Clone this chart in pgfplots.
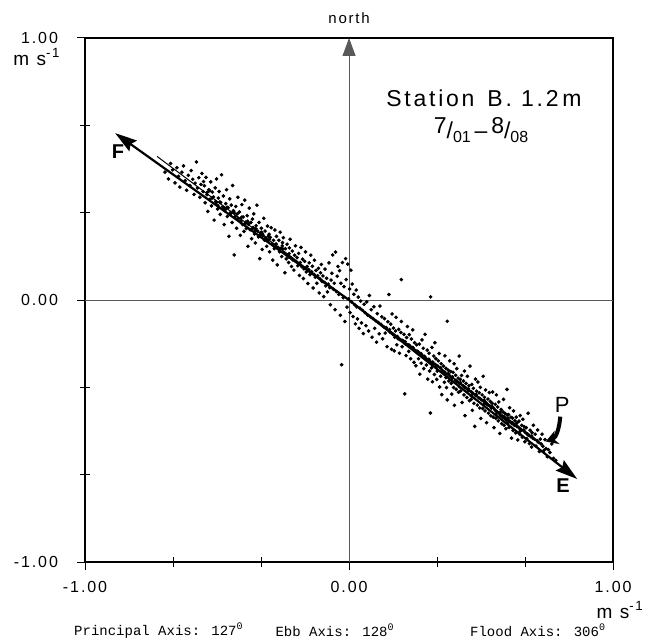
\documentclass[border=0pt]{standalone}
\usepackage{fontspec}
\setmainfont{Liberation Sans}
\newfontfamily\plotter[LetterSpace=12]{Liberation Sans}
\newfontfamily\mono{Liberation Mono}
\usepackage{pgfplots}
\pgfplotsset{compat=1.18}
\usetikzlibrary{arrows.meta}

\begin{document}
\begin{tikzpicture}
\begin{axis}[
  width=264pt, height=262pt, scale only axis,
  xmin=-1, xmax=1, ymin=-1, ymax=1,
  clip=false,
  axis line style={black, line width=0.6pt},
  xtick={-1,0,1}, xticklabels={-1.00,0.00,1.00},
  ytick={-1,0,1}, yticklabels={-1.00,0.00,1.00},
  minor xtick={-0.6667,-0.3333,0.3333,0.6667},
  minor ytick={-0.6667,-0.3333,0.3333,0.6667},
  xtick pos=bottom, ytick pos=left,
  tick align=center, major tick length=8pt, minor tick length=5pt,
  tick style={black, line width=0.5pt},
  xticklabel style={font=\plotter\fontsize{8}{9}\selectfont, yshift=-2pt},
  yticklabel style={font=\plotter\fontsize{8}{9}\selectfont, xshift=-6pt},
]
% crosshair through the origin
\draw[gray!70!black, line width=0.5pt] (axis cs:-1,0) -- (axis cs:1,0);
\draw[gray!70!black, line width=0.5pt, -{Triangle[length=9pt,width=6.5pt]}] (axis cs:0,-1) -- (axis cs:0,1);

% velocity samples (u, v)
\addplot[only marks, mark=*, mark size=0.7pt, black] coordinates {
(-0.697,0.488) (-0.684,0.462) (-0.676,0.521) (-0.668,0.497) (-0.659,0.447) (-0.652,0.505) (-0.646,0.472) (-0.641,0.431)
(-0.633,0.488) (-0.627,0.512) (-0.621,0.455) (-0.615,0.419) (-0.609,0.476) (-0.603,0.437) (-0.598,0.494) (-0.592,0.461)
(-0.587,0.403) (-0.583,0.446) (-0.578,0.527) (-0.574,0.428) (-0.569,0.467) (-0.565,0.392) (-0.561,0.441) (-0.557,0.483)
(-0.553,0.414) (-0.551,0.452)
(-0.548,0.436) (-0.545,0.371) (-0.542,0.468) (-0.538,0.402) (-0.535,0.338) (-0.531,0.421) (-0.528,0.384) (-0.524,0.451)
(-0.521,0.359) (-0.518,0.412) (-0.514,0.393) (-0.511,0.305) (-0.507,0.428) (-0.505,0.376) (-0.502,0.462) (-0.498,0.347)
(-0.495,0.389) (-0.492,0.414) (-0.488,0.327) (-0.486,0.372) (-0.483,0.478) (-0.479,0.356) (-0.476,0.397) (-0.473,0.288)
(-0.471,0.341) (-0.467,0.368) (-0.464,0.421) (-0.461,0.319) (-0.458,0.352) (-0.455,0.243) (-0.452,0.386) (-0.449,0.334)
(-0.446,0.362) (-0.443,0.296) (-0.441,0.437) (-0.438,0.341) (-0.435,0.172) (-0.432,0.318) (-0.429,0.357) (-0.426,0.274)
(-0.423,0.329) (-0.421,0.392) (-0.418,0.311) (-0.415,0.336) (-0.412,0.247) (-0.409,0.302) (-0.406,0.364) (-0.403,0.288)
(-0.401,0.317) (-0.398,0.262) (-0.395,0.381) (-0.392,0.297) (-0.389,0.273) (-0.386,0.322) (-0.383,0.205) (-0.381,0.289)
(-0.378,0.351) (-0.375,0.268) (-0.372,0.296) (-0.369,0.234) (-0.366,0.309) (-0.363,0.277) (-0.361,0.329) (-0.358,0.252)
(-0.355,0.218) (-0.352,0.284) (-0.349,0.362) (-0.346,0.263) (-0.343,0.241) (-0.341,0.296) (-0.338,0.158) (-0.335,0.257)
(-0.332,0.274) (-0.329,0.193) (-0.326,0.246) (-0.323,0.312) (-0.321,0.229) (-0.318,0.263) (-0.315,0.238) (-0.312,0.205)
(-0.309,0.282) (-0.306,0.227) (-0.303,0.251) (-0.301,0.184) (-0.298,0.239) (-0.295,0.276) (-0.292,0.214) (-0.289,0.152)
(-0.286,0.228) (-0.283,0.196) (-0.281,0.267) (-0.278,0.212) (-0.275,0.243) (-0.272,0.134) (-0.269,0.201) (-0.266,0.228)
(-0.263,0.184) (-0.261,0.259) (-0.258,0.197) (-0.255,0.166) (-0.252,0.219) (-0.249,0.238) (-0.246,0.181) (-0.243,0.104)
(-0.241,0.196) (-0.238,0.157) (-0.235,0.213) (-0.232,0.172) (-0.229,0.143) (-0.226,0.199) (-0.223,0.232) (-0.221,0.162)
(-0.218,0.128) (-0.215,0.187) (-0.212,0.153) (-0.209,0.114) (-0.206,0.171) (-0.203,0.207) (-0.201,0.148)
(-0.537,0.411) (-0.519,0.389) (-0.503,0.372) (-0.489,0.374) (-0.474,0.351) (-0.462,0.354) (-0.447,0.331) (-0.434,0.331)
(-0.421,0.312) (-0.407,0.316) (-0.394,0.291) (-0.379,0.292) (-0.367,0.271) (-0.353,0.272) (-0.339,0.248) (-0.327,0.251)
(-0.313,0.229) (-0.302,0.232) (-0.288,0.211) (-0.276,0.214) (-0.264,0.192) (-0.251,0.195) (-0.239,0.174) (-0.227,0.177)
(-0.213,0.155) (-0.528,0.417) (-0.497,0.361) (-0.468,0.347) (-0.437,0.338) (-0.411,0.298) (-0.384,0.301) (-0.357,0.261)
(-0.331,0.259) (-0.305,0.244) (-0.279,0.201) (-0.253,0.207) (-0.228,0.164)
(-0.197,0.162) (-0.194,0.131) (-0.191,0.178) (-0.188,0.094) (-0.185,0.143) (-0.182,0.201) (-0.179,0.127) (-0.176,0.156)
(-0.173,0.082) (-0.171,0.119) (-0.168,0.148) (-0.165,0.184) (-0.162,0.107) (-0.159,0.128) (-0.156,0.063) (-0.153,0.116)
(-0.151,0.142) (-0.148,0.097) (-0.145,0.171) (-0.142,0.108) (-0.139,0.129) (-0.136,0.046) (-0.133,0.098) (-0.131,0.152)
(-0.128,0.087) (-0.125,0.113) (-0.122,0.064) (-0.119,0.093) (-0.116,0.121) (-0.113,0.027) (-0.111,0.082) (-0.108,0.104)
(-0.105,0.136) (-0.102,0.071) (-0.099,0.092) (-0.096,0.013) (-0.093,0.067) (-0.091,0.118) (-0.088,0.054) (-0.085,0.083)
(-0.082,0.031) (-0.079,0.061) (-0.076,0.142) (-0.073,0.047) (-0.071,-0.018) (-0.068,0.076) (-0.065,0.102) (-0.062,0.172)
(-0.059,0.041) (-0.056,0.064) (-0.053,-0.037) (-0.051,0.183) (-0.048,0.032) (-0.045,0.091) (-0.042,0.128) (-0.039,0.021)
(-0.036,0.112) (-0.033,-0.058) (-0.031,0.064) (-0.028,-0.247) (-0.025,0.143) (-0.022,0.009) (-0.019,0.051) (-0.016,-0.082)
(-0.013,0.158) (-0.011,0.078) (-0.008,-0.027) (-0.005,0.137) (-0.002,0.004) (0.002,0.042) (0.004,-0.048) (0.007,0.114)
(0.009,-0.007) (0.012,0.061) (0.015,-0.063) (0.018,0.022) (0.021,-0.018) (0.024,-0.091) (0.027,0.038) (0.029,-0.026)
(0.032,-0.072) (0.035,0.011) (0.038,-0.108) (0.041,-0.031) (0.044,-0.004) (0.047,-0.087) (0.051,-0.039) (0.054,-0.128)
(0.057,-0.016) (0.061,-0.049) (0.064,-0.098) (0.067,-0.007) (0.071,-0.058) (0.074,-0.118) (0.077,0.017) (0.081,-0.064)
(0.084,-0.037) (0.087,-0.142) (0.091,-0.071) (0.094,-0.026) (0.097,-0.108) (0.101,-0.079) (0.104,-0.161) (0.107,-0.052)
(0.111,-0.086) (0.114,-0.129) (0.117,-0.023) (0.121,-0.093) (0.124,-0.064) (0.127,-0.148) (0.131,-0.102) (0.134,-0.071)
(0.137,-0.126) (0.141,-0.105) (0.144,-0.178) (0.147,-0.083) (0.151,0.021) (0.153,-0.113)
(0.198,0.078) (0.309,0.012) (0.372,-0.081)
(0.156,-0.124) (0.158,-0.092) (0.161,-0.188) (0.163,-0.053) (0.166,-0.131) (0.168,-0.107) (0.171,-0.194) (0.173,-0.142)
(0.176,-0.118) (0.178,-0.066) (0.181,-0.171) (0.183,-0.139) (0.186,-0.148) (0.188,-0.112) (0.191,-0.203) (0.193,-0.151)
(0.196,-0.124) (0.198,-0.082) (0.201,-0.178) (0.203,-0.154)
(0.206,-0.157) (0.208,-0.131) (0.211,-0.358) (0.213,-0.168) (0.216,-0.212) (0.218,-0.143) (0.221,-0.101) (0.223,-0.171)
(0.226,-0.196) (0.228,-0.132) (0.231,-0.176) (0.233,-0.224) (0.236,-0.149) (0.238,-0.183) (0.241,-0.114) (0.243,-0.187)
(0.246,-0.238) (0.248,-0.163) (0.251,-0.193) (0.253,-0.251) (0.256,-0.171) (0.258,-0.202)
(0.261,-0.197) (0.263,-0.224) (0.266,-0.168) (0.268,-0.283) (0.271,-0.206) (0.273,-0.241) (0.276,-0.152) (0.278,-0.212)
(0.281,-0.184) (0.283,-0.262) (0.286,-0.215) (0.288,-0.131) (0.291,-0.223) (0.293,-0.248) (0.296,-0.191) (0.298,-0.302)
(0.301,-0.228) (0.303,-0.203) (0.305,-0.271) (0.308,-0.431) (0.309,-0.236)
(0.312,-0.259) (0.314,-0.181) (0.316,-0.312) (0.318,-0.241) (0.321,-0.214) (0.323,-0.284) (0.325,-0.163) (0.327,-0.246)
(0.329,-0.224) (0.332,-0.303) (0.334,-0.271) (0.336,-0.252) (0.338,-0.232) (0.341,-0.204) (0.343,-0.332) (0.345,-0.258)
(0.347,-0.291) (0.349,-0.243) (0.351,-0.361) (0.353,-0.268)
(0.356,-0.274) (0.358,-0.252) (0.361,-0.314) (0.363,-0.213) (0.365,-0.283) (0.367,-0.261) (0.369,-0.334) (0.372,-0.381)
(0.374,-0.282) (0.376,-0.268) (0.378,-0.309) (0.381,-0.232) (0.383,-0.291) (0.385,-0.273) (0.387,-0.318) (0.389,-0.359)
(0.392,-0.298) (0.394,-0.276) (0.396,-0.334) (0.398,-0.243) (0.399,-0.402)
(0.402,-0.306) (0.404,-0.287) (0.406,-0.341) (0.408,-0.262) (0.411,-0.312) (0.413,-0.298) (0.415,-0.352) (0.417,-0.214)
(0.419,-0.319) (0.421,-0.303) (0.423,-0.347) (0.426,-0.288) (0.428,-0.391) (0.431,-0.326) (0.433,-0.309) (0.435,-0.362)
(0.437,-0.271) (0.439,-0.441) (0.441,-0.334) (0.443,-0.318) (0.446,-0.372) (0.448,-0.291) (0.449,-0.341)
(0.452,-0.346) (0.454,-0.327) (0.456,-0.384) (0.458,-0.252) (0.461,-0.349) (0.463,-0.379) (0.465,-0.322) (0.467,-0.421)
(0.469,-0.358) (0.471,-0.337) (0.473,-0.394) (0.476,-0.482) (0.478,-0.362) (0.479,-0.302) (0.481,-0.366) (0.483,-0.348)
(0.486,-0.401) (0.488,-0.313) (0.491,-0.373) (0.493,-0.354) (0.495,-0.412) (0.497,-0.333) (0.499,-0.452)
(0.502,-0.381) (0.504,-0.362) (0.506,-0.414) (0.508,-0.291) (0.511,-0.388) (0.513,-0.371) (0.515,-0.423) (0.517,-0.343)
(0.519,-0.392) (0.521,-0.468) (0.523,-0.399) (0.526,-0.378) (0.528,-0.432) (0.531,-0.353) (0.533,-0.404) (0.535,-0.387)
(0.537,-0.442) (0.539,-0.412) (0.542,-0.394) (0.544,-0.351) (0.546,-0.447) (0.548,-0.413) (0.549,-0.487)
(0.552,-0.419) (0.554,-0.398) (0.556,-0.451) (0.558,-0.362) (0.561,-0.427) (0.563,-0.408) (0.565,-0.461) (0.567,-0.389)
(0.569,-0.433) (0.571,-0.509) (0.573,-0.441) (0.576,-0.418) (0.578,-0.472) (0.581,-0.446) (0.583,-0.427) (0.585,-0.379)
(0.587,-0.478) (0.589,-0.452) (0.591,-0.433) (0.594,-0.491) (0.596,-0.458) (0.598,-0.341) (0.599,-0.439)
(0.602,-0.458) (0.604,-0.437) (0.606,-0.486) (0.608,-0.411) (0.611,-0.464) (0.613,-0.447) (0.615,-0.527) (0.617,-0.472)
(0.619,-0.451) (0.621,-0.498) (0.623,-0.423) (0.626,-0.478) (0.628,-0.461) (0.631,-0.507) (0.633,-0.447) (0.635,-0.482)
(0.637,-0.468) (0.639,-0.534) (0.642,-0.486) (0.644,-0.462) (0.646,-0.511) (0.648,-0.441)
(0.652,-0.494) (0.654,-0.478) (0.656,-0.523) (0.658,-0.455) (0.661,-0.499) (0.663,-0.483) (0.666,-0.541) (0.668,-0.506)
(0.671,-0.487) (0.673,-0.529) (0.676,-0.511) (0.678,-0.432) (0.681,-0.516) (0.683,-0.548) (0.686,-0.497) (0.688,-0.521)
(0.691,-0.561) (0.693,-0.506) (0.696,-0.527) (0.698,-0.478)
(0.702,-0.531) (0.705,-0.512) (0.708,-0.557) (0.711,-0.536) (0.714,-0.496) (0.717,-0.543) (0.721,-0.578) (0.724,-0.531)
(0.727,-0.549) (0.731,-0.512) (0.734,-0.558) (0.738,-0.574) (0.742,-0.533) (0.746,-0.567) (0.751,-0.598) (0.755,-0.571)
(0.761,-0.582) (0.768,-0.549) (0.774,-0.604) (0.783,-0.612)
(0.212,-0.159) (0.227,-0.172) (0.242,-0.181) (0.257,-0.195) (0.272,-0.204) (0.287,-0.218) (0.302,-0.226) (0.317,-0.237)
(0.332,-0.252) (0.347,-0.259) (0.362,-0.275) (0.377,-0.282) (0.392,-0.293) (0.407,-0.309) (0.422,-0.316) (0.437,-0.332)
(0.452,-0.339) (0.467,-0.354) (0.482,-0.361) (0.497,-0.377) (0.512,-0.383) (0.527,-0.401) (0.542,-0.406) (0.557,-0.424)
(0.572,-0.428) (0.587,-0.446) (0.602,-0.451) (0.617,-0.468) (0.632,-0.473) (0.647,-0.491) (0.662,-0.496) (0.677,-0.514)
(0.692,-0.519) (0.367,-0.296) (0.418,-0.331) (0.463,-0.366) (0.511,-0.399) (0.556,-0.436) (0.603,-0.468) (0.648,-0.501)
};

% principal axis (thin) and flood / ebb arrows
\draw[black, line width=0.5pt] (axis cs:-0.727,0.548) -- (axis cs:0.735,-0.554);
\draw[black, line width=1.1pt, -{Stealth[length=11pt,width=6.5pt,inset=1.5pt]}] (axis cs:0,0) -- (axis cs:-0.886,0.637);
\draw[black, line width=1.1pt, -{Stealth[length=11pt,width=6.5pt,inset=1.5pt]}] (axis cs:0,0) -- (axis cs:0.864,-0.683);
\node[font=\fontsize{10}{12}\selectfont\bfseries] at (axis cs:-0.875,0.565) {F};
\node[font=\fontsize{10}{12}\selectfont\bfseries] at (axis cs:0.81,-0.71) {E};
\node[font=\plotter\fontsize{11}{12}\selectfont] at (axis cs:0.807,-0.40) {P};
\draw[black, line width=2pt, -{Stealth[length=6pt,width=7pt]}] (axis cs:0.80,-0.445) to[out=-95, in=20] (axis cs:0.745,-0.54);

% annotations
\node[font=\plotter\fontsize{7.5}{9}\selectfont] at (axis cs:0,1.076) {north};
\node[font=\plotter\fontsize{11.5}{13}\selectfont] at (axis cs:0.511,0.771) {Station\, B.\ 1.2\,m};
\node[font=\fontsize{11.5}{13}\selectfont] at (axis cs:0.500,0.649)
  {\raisebox{0.4ex}{7}/\raisebox{-0.3ex}{\fontsize{8}{9}\selectfont 01}\,--\,\raisebox{0.4ex}{8}/\raisebox{-0.3ex}{\fontsize{8}{9}\selectfont 08}};
\node[font=\plotter\fontsize{9.5}{11}\selectfont] at (axis cs:-1.182,0.927) {m s\textsuperscript{-1}};
\node[font=\plotter\fontsize{9.5}{11}\selectfont] at (axis cs:1.027,-1.182) {m s\textsuperscript{-1}};
\node[font=\mono\fontsize{7}{8}\selectfont] at (axis cs:-0.72,-1.26) {Principal Axis: 127\textsuperscript{0}};
\node[font=\mono\fontsize{7}{8}\selectfont] at (axis cs:-0.053,-1.26) {Ebb Axis: 128\textsuperscript{0}};
\node[font=\mono\fontsize{7}{8}\selectfont] at (axis cs:0.716,-1.26) {Flood Axis: 306\textsuperscript{0}};

\coordinate (bl) at (axis cs:-1.322,-1.294);
\coordinate (tr) at (axis cs:1.136,1.145);
\end{axis}
\pgfresetboundingbox
\useasboundingbox (bl) rectangle (tr);
\end{tikzpicture}
\end{document}
